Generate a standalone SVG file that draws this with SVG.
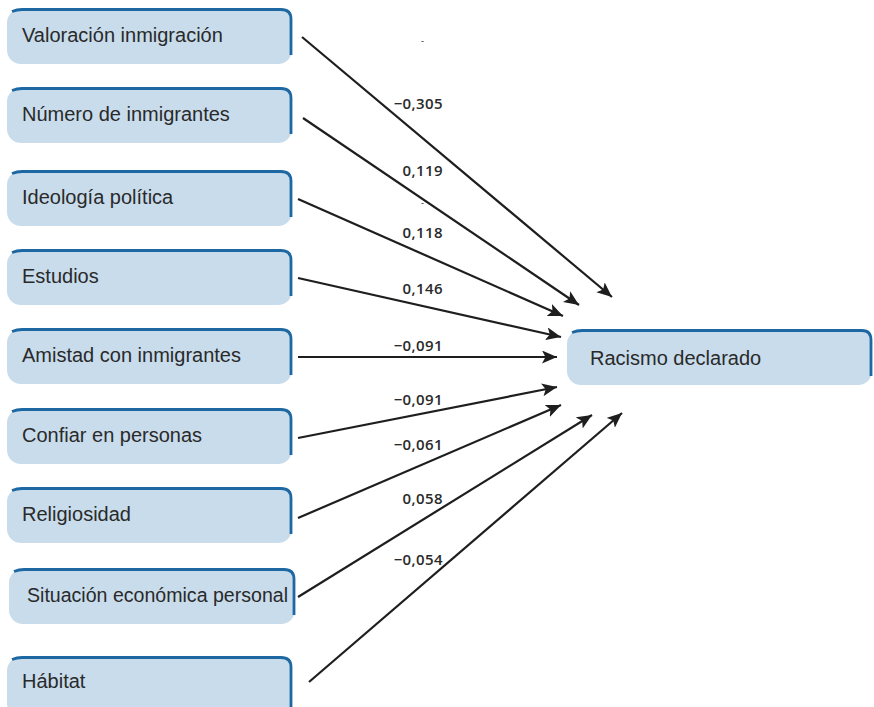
<svg xmlns="http://www.w3.org/2000/svg" width="874" height="707" viewBox="0 0 874 707">
<defs>
<style>
.box{fill:#c8dcec;}
.edge{fill:none;stroke:#1d68a3;stroke-width:2.8;}
.nt{font-family:"Liberation Sans",Arial,sans-serif;font-size:20px;fill:#2a2a2a;}
.lb{font-family:"Open Sans","Liberation Sans",sans-serif;font-size:15px;font-weight:600;fill:#2a2a2a;text-anchor:end;letter-spacing:0.4px;}
.dash{font-family:"Liberation Sans",sans-serif;font-size:9px;fill:#2a2a2a;}
.cn line{stroke:#1e1e1e;stroke-width:2.2;marker-end:url(#ah);}
</style>
<marker id="ah" markerUnits="userSpaceOnUse" markerWidth="17" markerHeight="15" refX="15" refY="6.5" orient="auto">
<path d="M0,0 L15,6.5 L0,13 L3.5,6.5 z" fill="#1e1e1e"/>
</marker>
</defs>
<rect width="874" height="707" fill="#ffffff"/>

<g id="n1"><rect class="box" x="7" y="9" width="285" height="55" rx="14"/><path class="edge" d="M12,11.5 Q17,9.5 22,9.5 L281,9.5 Q291,9.5 291,19 L291,55"/><text class="nt" x="22" y="42">Valoración inmigración</text></g>
<g id="n2"><rect class="box" x="7" y="88" width="285" height="55" rx="14"/><path class="edge" d="M12,90.5 Q17,88.5 22,88.5 L281,88.5 Q291,88.5 291,98 L291,134"/><text class="nt" x="22" y="121">Número de inmigrantes</text></g>
<g id="n3"><rect class="box" x="7" y="171" width="285" height="55" rx="14"/><path class="edge" d="M12,173.5 Q17,171.5 22,171.5 L281,171.5 Q291,171.5 291,181 L291,217"/><text class="nt" x="22" y="204">Ideología política</text></g>
<g id="n4"><rect class="box" x="7" y="250" width="285" height="55" rx="14"/><path class="edge" d="M12,252.5 Q17,250.5 22,250.5 L281,250.5 Q291,250.5 291,260 L291,296"/><text class="nt" x="22" y="283">Estudios</text></g>
<g id="n5"><rect class="box" x="7" y="329" width="285" height="55" rx="14"/><path class="edge" d="M12,331.5 Q17,329.5 22,329.5 L281,329.5 Q291,329.5 291,339 L291,375"/><text class="nt" x="22" y="362">Amistad con inmigrantes</text></g>
<g id="n6"><rect class="box" x="7" y="409" width="285" height="55" rx="14"/><path class="edge" d="M12,411.5 Q17,409.5 22,409.5 L281,409.5 Q291,409.5 291,419 L291,455"/><text class="nt" x="22" y="442">Confiar en personas</text></g>
<g id="n7"><rect class="box" x="7" y="488" width="285" height="55" rx="14"/><path class="edge" d="M12,490.5 Q17,488.5 22,488.5 L281,488.5 Q291,488.5 291,498 L291,534"/><text class="nt" x="22" y="521">Religiosidad</text></g>
<g id="n8"><rect class="box" x="9" y="569" width="286" height="55" rx="14"/><path class="edge" d="M14,571.5 Q19,569.5 24,569.5 L284,569.5 Q294,569.5 294,579 L294,615"/><text class="nt" x="27" y="602" textLength="261" lengthAdjust="spacingAndGlyphs">Situación económica personal</text></g>
<g id="n9"><rect class="box" x="7" y="657" width="285" height="60" rx="14"/><path class="edge" d="M12,659.5 Q17,657.5 22,657.5 L281,657.5 Q291,657.5 291,667 L291,707"/><text class="nt" x="22" y="688">Hábitat</text></g>
<g id="n10"><rect class="box" x="567" y="330" width="305" height="55" rx="14"/><path class="edge" d="M572,332.5 Q577,330.5 582,330.5 L862,330.5 Q871,330.5 871,340 L871,376"/><text class="nt" x="590" y="365">Racismo declarado</text></g>

<g id="connectors" class="cn">
<line x1="302" y1="37" x2="612" y2="297"/>
<line x1="303" y1="118" x2="579" y2="305"/>
<line x1="298" y1="199" x2="563" y2="316"/>
<line x1="298" y1="278" x2="561" y2="337"/>
<line x1="298" y1="357" x2="557" y2="357"/>
<line x1="298" y1="438" x2="557" y2="387"/>
<line x1="298" y1="518" x2="561" y2="405"/>
<line x1="298" y1="597" x2="592" y2="415"/>
<line x1="309" y1="682" x2="622" y2="413"/>
</g>

<g id="labels">
<text class="lb" x="443" y="109">−0,305</text>
<text class="lb" x="443" y="176">0,119</text>
<text class="lb" x="443" y="238">0,118</text>
<text class="lb" x="443" y="294">0,146</text>
<text class="lb" x="443" y="351">−0,091</text>
<text class="lb" x="443" y="405">−0,091</text>
<text class="lb" x="443" y="450">−0,061</text>
<text class="lb" x="443" y="504">0,058</text>
<text class="lb" x="443" y="565">−0,054</text>
<text class="dash" x="421" y="44">-</text>
<text class="dash" x="421" y="206">-</text>
</g>
</svg>
